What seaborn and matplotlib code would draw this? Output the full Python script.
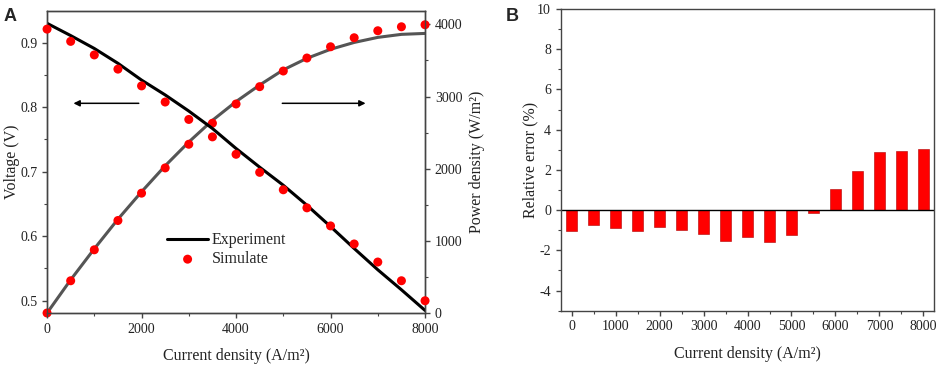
import numpy as np
import pandas as pd
import seaborn as sns
import matplotlib.pyplot as plt
from matplotlib.ticker import MultipleLocator

sns.set_style("ticks")
plt.rcParams["font.family"] = ["Liberation Serif", "DejaVu Serif"]
plt.rcParams["axes.unicode_minus"] = False
plt.rcParams["axes.edgecolor"] = "#444444"
plt.rcParams["xtick.color"] = "#444444"
plt.rcParams["ytick.color"] = "#444444"
plt.rcParams["xtick.labelcolor"] = "#222222"
plt.rcParams["ytick.labelcolor"] = "#222222"

# current density (A/m2)
current = [0, 500, 1000, 1500, 2000, 2500, 3000, 3500, 4000,
           4500, 5000, 5500, 6000, 6500, 7000, 7500, 8000]

# panel A
volt_exp = [0.930, 0.911, 0.891, 0.868, 0.842, 0.819, 0.794, 0.767, 0.736,
            0.707, 0.679, 0.648, 0.615, 0.581, 0.548, 0.517, 0.485]
volt_sim = [0.921, 0.902, 0.881, 0.859, 0.833, 0.808, 0.781, 0.754, 0.727,
            0.699, 0.672, 0.644, 0.616, 0.588, 0.560, 0.531, 0.500]
power_exp = [0, 460, 890, 1300, 1680, 2040, 2370, 2670, 2930,
             3160, 3370, 3530, 3655, 3750, 3820, 3862, 3875]
power_sim = [0, 447, 876, 1282, 1661, 2011, 2339, 2630, 2897,
             3137, 3354, 3534, 3690, 3815, 3912, 3967, 3995]

# panel B
rel_error = [-1.04, -0.73, -0.91, -1.04, -0.83, -0.98, -1.19, -1.51, -1.34,
             -1.57, -1.26, -0.15, 1.04, 1.94, 2.91, 2.94, 3.04]

df = pd.DataFrame({"current": current, "volt_exp": volt_exp, "volt_sim": volt_sim,
                   "power_exp": power_exp, "power_sim": power_sim, "err": rel_error})

fig = plt.figure(figsize=(9.41, 3.66), dpi=100)
ax = fig.add_axes([0.0500, 0.1448, 0.4017, 0.8250])
ax2 = ax.twinx()
axb = fig.add_axes([0.5959, 0.1511, 0.3970, 0.8243])

# ---- panel A ----
sns.lineplot(data=df, x="current", y="power_exp", ax=ax2, color="#555555", lw=2.2)
sns.scatterplot(data=df, x="current", y="power_sim", ax=ax2, color="#ff0000",
                s=42, edgecolor="none", zorder=5, clip_on=False)
sns.lineplot(data=df, x="current", y="volt_exp", ax=ax, color="black", lw=2.2,
             label="Experiment")
sns.scatterplot(data=df, x="current", y="volt_sim", ax=ax, color="#ff0000",
                s=42, edgecolor="none", zorder=5, clip_on=False, label="Simulate")
ax.set_zorder(ax2.get_zorder() + 1)
ax.patch.set_visible(False)

ax.set_xlim(0, 8000)
ax.set_ylim(0.481, 0.949)
ax2.set_ylim(0, 4185)
ax.xaxis.set_major_locator(MultipleLocator(2000))
ax.xaxis.set_minor_locator(MultipleLocator(1000))
ax.yaxis.set_major_locator(MultipleLocator(0.1))
ax.yaxis.set_minor_locator(MultipleLocator(0.05))
ax2.yaxis.set_major_locator(MultipleLocator(1000))
ax2.yaxis.set_minor_locator(MultipleLocator(500))
ax.yaxis.set_major_formatter(plt.FuncFormatter(lambda v, p: f"{v:.1f}"))

ax.set_xlabel("Current density (A/m²)", fontsize=11.5, color="#222222", labelpad=8)
ax.set_ylabel("Voltage (V)", fontsize=11.5, color="#222222", labelpad=0)
ax2.set_ylabel("Power density (W/m²)", fontsize=11.5, color="#222222", labelpad=5)

for a in (ax, ax2):
    a.tick_params(which="major", direction="out", length=3.5, width=1, labelsize=10)
    a.tick_params(which="minor", direction="out", length=2, width=0.8)
ax.tick_params(axis="x", pad=4)

ax.annotate("", xy=(500, 0.806), xytext=(2000, 0.806),
            arrowprops=dict(arrowstyle="-|>", color="black", lw=1.1, mutation_scale=9))
ax.annotate("", xy=(6800, 0.806), xytext=(4920, 0.806),
            arrowprops=dict(arrowstyle="-|>", color="black", lw=1.1, mutation_scale=9))

ax.legend(loc="lower left", bbox_to_anchor=(0.30, 0.13), frameon=False,
          fontsize=11.5, handlelength=2.6, handletextpad=0.2, labelspacing=0.2,
          borderaxespad=0)

# ---- panel B ----
sns.barplot(data=df, x="current", y="err", ax=axb, native_scale=True, width=0.5,
            color="#ff0000", saturation=1, edgecolor="#b00000", linewidth=0.4)
axb.axhline(0, color="black", lw=1)
axb.set_xlim(-250, 8250)
axb.set_ylim(-5, 10)
axb.xaxis.set_major_locator(MultipleLocator(1000))
axb.xaxis.set_minor_locator(MultipleLocator(500))
axb.yaxis.set_major_locator(MultipleLocator(2))
axb.yaxis.set_minor_locator(MultipleLocator(1))
axb.tick_params(which="major", direction="out", length=3.5, width=1, labelsize=10)
axb.tick_params(which="minor", direction="out", length=2, width=0.8)
axb.set_xlabel("Current density (A/m²)", fontsize=11.5, color="#222222", labelpad=9)
axb.set_ylabel("Relative error (%)", fontsize=11.5, color="#222222", labelpad=-1)

for a in (ax, ax2, axb):
    for s in a.spines.values():
        s.set_visible(True)
        s.set_linewidth(1)

fig.text(0.004, 0.978, "A", fontsize=13, fontweight="bold", family="Liberation Sans",
         va="top", ha="left")
fig.text(0.537, 0.978, "B", fontsize=13, fontweight="bold", family="Liberation Sans",
         va="top", ha="left")

fig.savefig("out.png", dpi=100)
